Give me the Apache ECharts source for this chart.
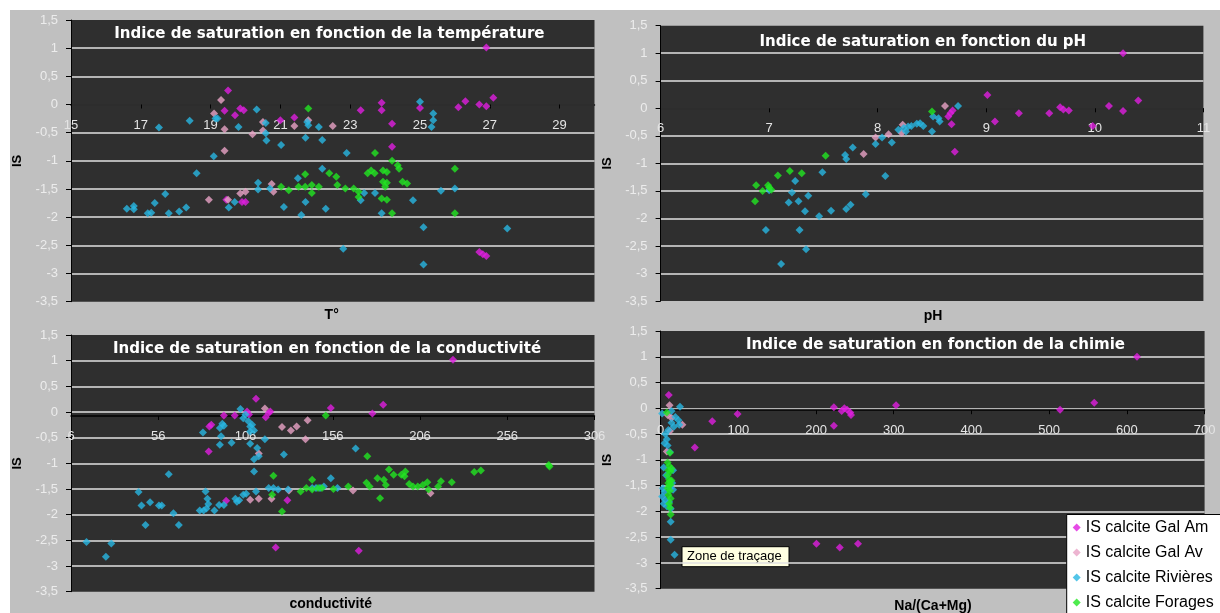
<!DOCTYPE html>
<html>
<head>
<meta charset="utf-8">
<title>Indice de saturation</title>
<script src="https://cdn.jsdelivr.net/npm/echarts@6/dist/echarts.min.js"></script>
<style>
  html, body { margin: 0; padding: 0; background: #ffffff; width: 1220px; height: 613px; overflow: hidden; }
  #chart { position: absolute; left: 10px; top: 10px; width: 1210px; height: 603px; }
</style>
</head>
<body>
<div id="chart"></div>
<script>
// Series names and colours
const SERIES_NAMES = ['IS calcite Gal Am', 'IS calcite Gal Av', 'IS calcite Rivières', 'IS calcite Forages'];
const SERIES_COLORS = ['#e01ee0', '#e8a2c6', '#28b6e2', '#22e622'];

// IS vs temperature [T°, IS]
const tempGalAm = [[26.9,1.01],[19.5,0.25],[19.4,-0.11],[19.7,-0.19],[19.85,-0.07],[19.95,-0.1],[21.0,-0.28],[21.4,-0.23],[23.3,-0.1],[23.9,0.03],[23.9,-0.1],[24.2,-0.34],[24.2,-0.75],[25.0,-0.06],[26.1,-0.05],[26.3,0.06],[26.7,0.0],[26.9,-0.03],[27.1,0.12],[19.45,-1.69],[19.9,-1.73],[20.0,-1.73],[26.7,-2.62],[26.8,-2.66],[26.9,-2.69]];
const tempGalAv = [[19.3,0.08],[19.1,-0.16],[19.4,-0.44],[19.4,-0.82],[18.95,-1.69],[19.5,-1.69],[19.85,-1.58],[20.0,-1.55],[20.2,-0.53],[20.5,-0.31],[20.5,-0.46],[20.75,-1.41],[20.8,-1.55],[21.4,-0.38],[21.8,-0.28],[22.5,-0.38]];
const tempRivieres = [[16.6,-1.85],[16.8,-1.8],[16.8,-1.86],[17.2,-1.93],[17.3,-1.92],[17.4,-1.75],[17.52,-0.41],[17.7,-1.59],[17.8,-1.93],[18.1,-1.9],[18.3,-1.83],[18.4,-0.29],[18.6,-1.22],[19.09,-0.92],[19.14,-0.25],[19.2,-0.25],[19.52,-1.83],[19.69,-1.73],[19.8,-0.4],[20.32,-0.09],[20.36,-1.39],[20.36,-1.51],[20.58,-0.33],[20.58,-0.51],[20.6,-0.64],[20.7,-1.49],[21.02,-0.72],[21.1,-1.82],[21.5,-1.31],[21.6,-1.96],[21.72,-1.73],[21.72,-0.59],[21.77,-0.31],[21.8,-0.37],[22.1,-0.4],[22.2,-0.63],[22.2,-1.14],[22.3,-1.85],[22.8,-2.56],[22.9,-0.86],[23.3,-1.7],[23.4,-1.57],[23.71,-1.57],[23.9,-1.93],[24.8,-1.7],[25.0,0.05],[25.1,-2.18],[25.1,-2.84],[25.38,-0.16],[25.38,-0.28],[25.33,-0.4],[25.6,-1.53],[26.0,-1.49],[27.5,-2.2]];
const tempForages = [[21.8,-0.07],[21.02,-1.46],[21.24,-1.52],[21.52,-1.46],[21.71,-1.24],[21.71,-1.46],[21.9,-1.43],[21.9,-1.57],[22.1,-1.46],[22.4,-1.22],[22.6,-1.28],[22.63,-1.43],[22.86,-1.49],[23.1,-1.49],[23.24,-1.55],[23.24,-1.64],[23.71,-0.86],[23.5,-1.22],[23.6,-1.17],[23.7,-1.22],[23.94,-1.17],[24.05,-1.2],[24.2,-1.0],[23.94,-1.37],[24.05,-1.39],[24.0,-1.46],[23.9,-1.67],[24.05,-1.69],[24.2,-1.93],[24.36,-1.08],[24.4,-1.14],[24.5,-1.37],[24.63,-1.4],[26.0,-1.14],[26.0,-1.93]];

// IS vs pH [pH, IS]
const phGalAm = [[10.26,1.0],[9.01,0.24],[9.08,-0.24],[9.3,-0.09],[9.58,-0.09],[9.68,0.02],[9.71,-0.02],[9.76,-0.04],[9.98,-0.32],[10.13,0.04],[10.26,-0.05],[10.4,0.14],[8.65,-0.15],[8.67,-0.09],[8.69,-0.04],[8.68,-0.29],[8.71,-0.79]];
const phGalAv = [[8.62,0.04],[8.1,-0.47],[7.87,-0.83],[8.23,-0.3],[8.22,-0.45],[7.98,-0.53]];
const phRivieres = [[8.74,0.04],[8.5,-0.42],[8.51,-0.15],[8.56,-0.18],[8.57,-0.24],[8.19,-0.39],[8.24,-0.36],[8.28,-0.33],[8.31,-0.32],[8.36,-0.28],[8.39,-0.27],[8.42,-0.32],[8.26,-0.42],[8.04,-0.53],[8.13,-0.62],[7.98,-0.65],[7.77,-0.71],[7.7,-0.85],[7.71,-0.92],[8.07,-1.23],[7.49,-1.16],[7.89,-1.56],[7.75,-1.75],[7.71,-1.83],[7.57,-1.86],[7.46,-1.96],[7.36,-1.59],[7.33,-1.87],[7.24,-1.32],[7.21,-1.53],[7.18,-1.71],[7.27,-1.69],[7.28,-2.21],[7.34,-2.56],[7.11,-2.83],[6.97,-2.21],[7.0,-1.49]];
const phForages = [[8.5,-0.06],[7.52,-0.86],[7.19,-1.14],[7.3,-1.18],[7.08,-1.22],[6.88,-1.4],[6.87,-1.69],[6.94,-1.5],[6.99,-1.4],[7.0,-1.44],[7.02,-1.48]];

// IS vs conductivité [conductivité, IS]
const condGalAm = [[224.9,1.02],[112,0.26],[106.9,0.01],[108,-0.05],[117.6,-0.1],[119.3,-0.02],[120.2,0.01],[93.6,-0.07],[99.8,-0.07],[86.4,-0.25],[85.3,-0.28],[84.9,-0.77],[94.9,-1.73],[130,-1.72],[123.3,-2.64],[154.9,0.08],[178.7,-0.03],[184.9,0.14],[170.9,-2.7]];
const condGalAv = [[117.1,0.07],[126.9,-0.29],[132,-0.36],[135.3,-0.28],[141.6,-0.16],[140.4,-0.53],[113.6,-0.81],[108.7,-1.71],[113.6,-1.69],[120.9,-1.69],[130.9,-1.53],[167.6,-1.53],[212,-1.58]];
const condRivieres = [[14.9,-2.53],[26,-2.82],[29.1,-2.56],[44.7,-1.56],[46.4,-1.82],[48.7,-2.2],[51.3,-1.76],[56.4,-1.82],[58,-1.82],[62,-1.21],[64.7,-1.97],[67.8,-2.2],[79.8,-1.92],[82,-1.92],[83.6,-1.88],[81.6,-0.4],[83.1,-1.55],[84.2,-1.69],[84.7,-1.79],[88.2,-1.92],[90.9,-1.81],[93.6,-1.81],[91.3,-0.31],[92.7,-0.23],[93.6,-0.27],[92,-0.47],[91.3,-0.64],[98,-0.6],[100.2,-1.69],[101.1,-1.75],[102.4,-1.72],[103.1,0.06],[104.7,-1.61],[106.4,-1.59],[104.7,-0.12],[106,-0.05],[107.6,-0.18],[108.7,-0.28],[109.8,-0.25],[108.7,-0.38],[110.9,-0.36],[108.7,-0.62],[110.9,-0.92],[110.9,-1.16],[112.7,-0.7],[113.6,-0.86],[112,-1.55],[117.1,-0.53],[119.3,-1.48],[122,-1.48],[124.7,-1.51],[128,-0.83],[130.4,-1.51],[144.2,-1.48],[146.4,-1.48],[148.7,-1.48],[150.9,-1.45],[154.9,-1.29],[158.7,-1.48],[169.1,-0.71]];
const condForages = [[152,-0.07],[122,-1.24],[121.3,-1.61],[126.9,-1.94],[137.6,-1.55],[140.9,-1.48],[144.2,-1.32],[144.2,-1.51],[147.6,-1.48],[149.8,-1.48],[156.4,-1.5],[164.9,-1.45],[175.8,-0.86],[175.3,-1.38],[177.1,-1.45],[181.6,-1.29],[185.3,-1.32],[186.4,-1.42],[183.1,-1.68],[188.2,-1.12],[190.9,-1.22],[195.3,-1.22],[197.6,-1.16],[197.1,-1.25],[199.8,-1.4],[202,-1.45],[204.7,-1.45],[207.6,-1.42],[210.2,-1.37],[210.9,-1.51],[216.4,-1.45],[218,-1.35],[224.2,-1.37],[237.1,-1.17],[240.9,-1.14],[279.8,-1.03],[280.2,-1.06]];

// IS vs Na/(Ca+Mg) [Na/(Ca+Mg), IS]
const chemGalAm = [[613,1.0],[10.5,0.26],[66.5,-0.25],[44,-0.76],[99,-0.11],[223,0.02],[223,-0.34],[233,-0.05],[236.5,0.0],[240,-0.03],[244,-0.08],[245,-0.13],[303,0.06],[514,-0.03],[558,0.11],[200.5,-2.63],[230.5,-2.7],[254,-2.63]];
const chemGalAv = [[11.5,0.06],[9,-0.13],[14,-0.19],[28,-0.32],[8,-0.84],[12,-0.44]];
const chemRivieres = [[25,0.03],[19,-0.17],[23,-0.23],[24,-0.32],[14,-0.28],[17,-0.36],[10,-0.42],[6,-0.5],[8,-0.6],[5,-0.68],[9,-0.72],[12,-0.85],[4,-1.15],[7,-1.3],[3,-1.55],[5,-1.62],[2,-1.71],[6,-1.78],[4,-1.85],[8,-1.9],[12,-1.55],[15,-1.45],[16,-1.58],[13,-1.95],[11,-1.82],[13,-2.2],[13,-2.55],[18,-2.84],[14,-0.05],[2,-0.1],[16,-1.2]];
const chemForages = [[8,-0.08],[12,-0.86],[9,-1.05],[11,-1.12],[10,-1.2],[13,-1.22],[9,-1.3],[11,-1.38],[12,-1.42],[10,-1.45],[13,-1.48],[11,-1.5],[9,-1.55],[12,-1.6],[10,-1.68],[13,-1.75],[11,-1.85],[12,-1.93],[13,-2.06],[14,-1.17],[14,-1.4]];

// IS axis
const IS_MIN = -3.5, IS_MAX = 1.5, IS_STEP = 0.5;

const panels = [
  { title: 'Indice de saturation en fonction de la température', xName: 'T°',
    grid: { left: 59.3, top: 10, width: 525.2, height: 281.7 },
    x: { min: 15, max: 30, interval: 2, showMaxLabel: false },
    series: [tempGalAm, tempGalAv, tempRivieres, tempForages],
    titleAt: [319.4, 23.3], xNameAt: [321.7, 305] },
  { title: 'Indice de saturation en fonction du pH', xName: 'pH',
    grid: { left: 650.6, top: 15.7, width: 542.8, height: 275.3 },
    x: { min: 6, max: 11, interval: 1, showMaxLabel: true },
    series: [phGalAm, phGalAv, phRivieres, phForages],
    titleAt: [912.8, 31.7], xNameAt: [923, 306] },
  { title: 'Indice de saturation en fonction de la conductivité', xName: 'conductivité',
    grid: { left: 59.3, top: 325, width: 525.2, height: 256.7 },
    x: { min: 6, max: 306, interval: 50, showMaxLabel: true },
    series: [condGalAm, condGalAv, condRivieres, condForages],
    titleAt: [317, 339], xNameAt: [320.7, 594] },
  { title: 'Indice de saturation en fonction de la chimie', xName: 'Na/(Ca+Mg)',
    grid: { left: 650.6, top: 321, width: 544, height: 257.7 },
    x: { min: 0, max: 700, interval: 100, showMaxLabel: true },
    series: [chemGalAm, chemGalAv, chemRivieres, chemForages],
    titleAt: [925.5, 335], xNameAt: [923, 596] }
];

const SANS = "'Liberation Sans', Arial, sans-serif";
const TITLE_FONT = "'DejaVu Sans Condensed', 'DejaVu Sans', sans-serif";

const grids = [], xAxes = [], yAxes = [], series = [], graphics = [];

panels.forEach((p, i) => {
  grids.push(Object.assign({ show: true, backgroundColor: '#2f2f2f', borderWidth: 0 }, p.grid));
  xAxes.push({
    gridIndex: i, type: 'value', position: 'bottom', min: p.x.min, max: p.x.max, interval: p.x.interval, z: 4,
    axisLine: { show: true, onZero: false, lineStyle: { color: '#000', width: 1.5 } },
    axisTick: { show: true, length: 4, lineStyle: { color: '#000' } },
    axisLabel: { color: '#e4e4e4', fontSize: 13, fontFamily: SANS, margin: 14, showMaxLabel: p.x.showMaxLabel },
    splitLine: { show: false }
  });
  yAxes.push({
    gridIndex: i, type: 'value', min: IS_MIN, max: IS_MAX, interval: IS_STEP,
    name: 'IS', nameLocation: 'middle', nameGap: 47, nameRotate: 90,
    nameTextStyle: { color: '#000', fontWeight: 'bold', fontSize: 13, fontFamily: SANS },
    axisLine: { show: true, onZero: false, lineStyle: { color: '#000', width: 1 } },
    axisTick: { show: true, length: 5, lineStyle: { color: '#000' } },
    axisLabel: { color: '#ececec', fontSize: 13, fontFamily: SANS, margin: 13,
      formatter: v => String(v).replace('.', ',') },
    splitLine: { show: true, showMinLine: false, showMaxLine: false,
      lineStyle: { color: '#e2e2e2', width: 1.5 } }
  });
  p.series.forEach((data, k) => {
    series.push({
      type: 'scatter', name: SERIES_NAMES[k], xAxisIndex: i, yAxisIndex: i,
      data: data, symbol: 'diamond', symbolSize: 8,
      itemStyle: { color: SERIES_COLORS[k] },
      emphasis: { disabled: true }, z: 5 + k
    });
  });
  graphics.push({
    type: 'text', x: p.titleAt[0], y: p.titleAt[1],
    style: { text: p.title, fill: '#fff', font: 'bold 16.7px ' + TITLE_FONT, align: 'center', verticalAlign: 'middle' }
  });
  graphics.push({
    type: 'text', x: p.xNameAt[0], y: p.xNameAt[1],
    style: { text: p.xName, fill: '#000', font: 'bold 14px ' + SANS, align: 'center', verticalAlign: 'middle' }
  });
});

// Hover tip left on the last plot
graphics.push({
  type: 'group', x: 672, y: 536.7, z: 20,
  children: [
    { type: 'rect', shape: { x: 0, y: 0, width: 107, height: 20 },
      style: { fill: '#ffffe1', stroke: '#000', lineWidth: 1 } },
    { type: 'text', x: 5, y: 10,
      style: { text: 'Zone de traçage', fill: '#000', font: '13px ' + SANS, verticalAlign: 'middle' } }
  ]
});

const chart = echarts.init(document.getElementById('chart'), null, { renderer: 'canvas' });
chart.setOption({
  animation: false,
  backgroundColor: '#c0c0c0',
  grid: grids,
  xAxis: xAxes,
  yAxis: yAxes,
  series: series,
  legend: {
    orient: 'vertical', left: 1056.7, top: 504.5, height: 140, z: 30,
    data: SERIES_NAMES, icon: 'diamond', itemWidth: 8, itemHeight: 8, itemGap: 9,
    backgroundColor: '#ffffff', borderColor: '#000', borderWidth: 1, borderRadius: 0,
    padding: [5, 60, 6, 6], selectedMode: false,
    textStyle: { color: '#000', fontSize: 16, fontFamily: SANS }
  },
  graphic: graphics
});

// Each x axis crosses its IS axis at 0: shift it up from the grid bottom
chart.setOption({
  xAxis: panels.map((p, i) => ({
    offset: chart.convertToPixel({ yAxisIndex: i }, 0) - chart.convertToPixel({ yAxisIndex: i }, IS_MIN)
  }))
});
</script>
</body>
</html>
